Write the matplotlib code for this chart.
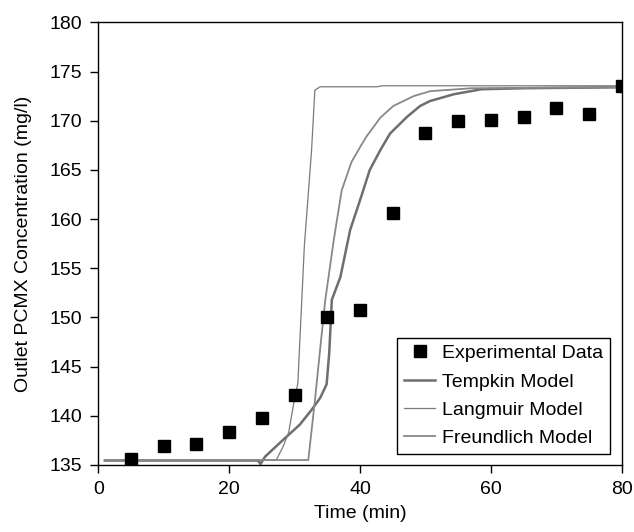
import numpy as np
import matplotlib.pyplot as plt

plt.rcParams['font.family'] = ['Liberation Sans', 'DejaVu Sans']

# Experimental data
t_exp = [5, 10, 15, 20, 25, 30, 35, 40, 45, 50, 55, 60, 65, 70, 75, 80]
c_exp = [135.65, 136.9, 137.1, 138.4, 139.8, 142.1, 150.0, 150.8, 160.6,
         168.8, 170.0, 170.1, 170.4, 171.3, 170.7, 173.5]

# Tempkin model
t_tem = [1, 24.4, 24.8, 25.5, 28.0, 30.8, 32.6, 33.9, 34.9, 35.3, 35.7, 37.0,
         38.5, 40.0, 41.5, 43.1, 44.6, 47.2, 49.2, 50.7, 54.4, 58.6, 65, 80]
c_tem = [135.45, 135.45, 135.1, 135.85, 137.4, 139.1, 140.6, 141.8, 143.2, 146.4,
         151.8, 154.1, 158.9, 161.9, 165.0, 167.0, 168.7, 170.4, 171.5, 172.0,
         172.7, 173.2, 173.3, 173.4]

# Langmuir model
t_lan = [1, 27.2, 28.2, 29.1, 29.8, 30.5, 31.5, 32.6, 33.1, 33.9, 42.6, 43.5, 80]
c_lan = [135.5, 135.5, 136.8, 138.3, 141.0, 143.3, 157.3, 167.0, 173.1, 173.45,
         173.45, 173.55, 173.55]

# Freundlich model
t_fre = [1, 32.1, 33.1, 33.9, 34.7, 36.0, 37.2, 38.7, 40.0, 41.0, 43.1, 45.1,
         48.2, 50.7, 57.0, 80]
c_fre = [135.5, 135.5, 141.5, 146.7, 151.8, 157.9, 162.9, 165.8, 167.3, 168.4,
         170.3, 171.5, 172.5, 173.0, 173.3, 173.4]

fig = plt.figure(figsize=(6.34, 5.32), dpi=100)
ax = fig.add_axes([0.155, 0.126, 0.8256, 0.832])

ax.plot(t_exp, c_exp, 's', color='black', markersize=8.4, linestyle='none',
        label='Experimental Data', zorder=5)
ax.plot(t_tem, c_tem, color='#6e6e6e', lw=1.8, label='Tempkin Model')
ax.plot(t_lan, c_lan, color='#7a7a7a', lw=0.9, label='Langmuir Model')
ax.plot(t_fre, c_fre, color='#888888', lw=1.3, label='Freundlich Model')

ax.set_xlim(0, 80)
ax.set_ylim(135, 180)
ax.set_xticks(np.arange(0, 81, 20))
ax.set_yticks(np.arange(135, 181, 5))
ax.tick_params(direction='out', length=5.8, width=1, labelsize=14, pad=6)
for s in ax.spines.values():
    s.set_linewidth(1.0)

ax.set_xlabel('Time (min)', fontsize=14, labelpad=5)
ax.set_ylabel('Outlet PCMX Concentration (mg/l)', fontsize=14, labelpad=12.5)

leg = ax.legend(loc='lower right', bbox_to_anchor=(0.9776, 0.0248), fontsize=14,
                fancybox=False, framealpha=1, edgecolor='black', borderaxespad=0,
                handlelength=1.6, handletextpad=0.35, borderpad=0.35,
                markerscale=1.0, labelspacing=0.55)
leg.get_frame().set_linewidth(1.0)

fig.savefig('out.png', dpi=100)
